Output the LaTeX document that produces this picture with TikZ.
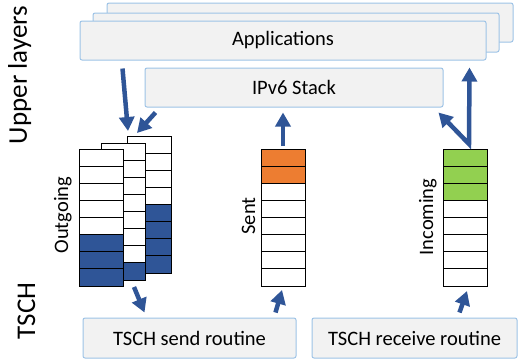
\documentclass[tikz,border=0pt]{standalone}
\usepackage{fontspec}
\setmainfont{Carlito}
\usetikzlibrary{arrows.meta}

\definecolor{qblue}{RGB}{47,85,151}
\definecolor{qorange}{RGB}{237,125,49}
\definecolor{qgreen}{RGB}{146,208,80}
\definecolor{boxfill}{RGB}{242,242,242}
\definecolor{boxline}{RGB}{157,195,230}

\newcommand\boxfont{\fontsize{20.5}{24}\selectfont}
\newcommand\sidefont{\fontsize{27}{32}\selectfont}

\tikzset{
  layerbox/.style={draw=boxline, fill=boxfill, rounded corners=2pt, line width=1pt,
    minimum height=39pt, inner sep=0pt, font=\boxfont},
  qframe/.style={draw, fill=white, line width=1pt, minimum width=44pt,
    minimum height=137pt, inner sep=0pt, outer sep=0pt, anchor=north west},
  flow/.style={draw=qblue, line width=4.5pt,
    -{Triangle[width=15pt,length=14pt]}},
  lbl/.style={font=\boxfont, inner sep=0pt, rotate=90, anchor=base}
}

% name, left, top, first filled cell, last filled cell, colour
\newcommand\queue[6]{%
  \node[qframe] (#1) at (#2,#3) {};
  \foreach \k in {#4,...,#5}
    \fill[#6] (#2,{#3+17.125*(\k-1)}) rectangle +(44,17.125);
  \foreach \k in {1,...,7}
    \draw[line width=1pt] (#2,{#3+17.125*\k}) -- +(44,0);
  \draw[line width=1pt] (#1.north west) rectangle (#1.south east);}

\begin{document}
\begin{tikzpicture}[x=1pt,y=-1pt]
  \useasboundingbox (0,0) rectangle (520,360);

  % layer names
  \node[font=\sidefont, inner sep=0pt, rotate=90, anchor=base] (upper) at (27,75) {Upper layers};
  \node[font=\sidefont, inner sep=0pt, rotate=90, anchor=base] (tsch) at (35,311) {TSCH};

  % upper layers
  \node[layerbox, minimum width=406pt] (apps3) at (310,22.5) {};
  \node[layerbox, minimum width=406pt] (apps2) at (296,32.5) {};
  \node[layerbox, minimum width=406pt] (apps) at (283,40.5) {Applications};
  \node[layerbox, minimum width=298pt] (ipv6) at (294,87.5) {IPv6 Stack};

  % queues
  \queue{outC}{127}{136}{5}{8}{qblue}
  \queue{outB}{101}{143}{8}{8}{qblue}
  \queue{outA}{79}{149}{6}{8}{qblue}
  \queue{sent}{261}{149}{1}{2}{qorange}
  \queue{inc}{443}{149}{1}{3}{qgreen}

  \node[lbl] (outlbl) at (68,215) {Outgoing};
  \node[lbl] (sentlbl) at (255,216) {Sent};
  \node[lbl] (inclbl) at (433,217) {Incoming};

  % TSCH routines
  \node[layerbox, minimum width=213pt, minimum height=40pt] (sendr) at (189.5,338) {TSCH send routine};
  \node[layerbox, minimum width=205pt, minimum height=40pt] (recvr) at (414.5,338) {TSCH receive routine};

  % flows
  \draw[flow] ([shift={(43,8)}]apps.south west) -- ([shift={(1,-5)}]outC.north west);
  \draw[flow] ([shift={(11,5)}]ipv6.south west) -- ([shift={(10,-3)}]outC.north west);
  \draw[flow] ([shift={(33,7)}]outB.south west) -- ([shift={(62,-5)}]sendr.north west);
  \draw[flow] ([shift={(0,-3)}]sent.north) -- ([shift={(-11,5)}]ipv6.south);
  \draw[flow] ([shift={(-21,-5)}]sendr.north east) -- ([shift={(-1,4)}]sent.south);
  \draw[flow] ([shift={(148,-5)}]recvr.north west) -- ([shift={(2,5)}]inc.south);
  \draw[flow, {Triangle[width=15pt,length=14pt]}-{Triangle[width=15pt,length=14pt]}]
    ([shift={(-5,5)}]ipv6.south east) -- ([shift={(4,-5)}]inc.north)
    -- ([shift={(-17,7)}]apps.south east);
\end{tikzpicture}
\end{document}
